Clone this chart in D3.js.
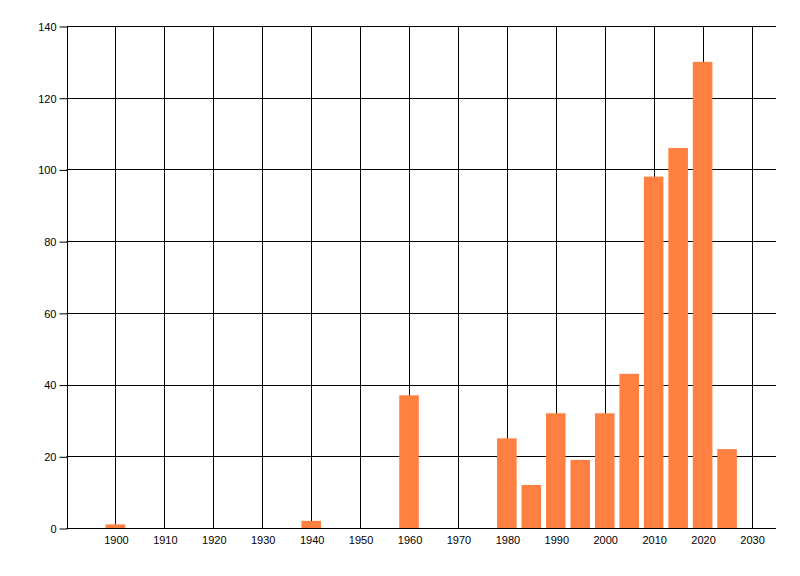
<!DOCTYPE html>
<html>
<head>
<meta charset="utf-8">
<script src="https://cdn.jsdelivr.net/npm/d3@7"></script>
<style>
  body { margin: 0; background: #fff; }
  .tick text { font-family: "Liberation Sans", Arial, sans-serif; font-size: 11px; fill: #000; }
</style>
</head>
<body>
<script>
const years = [1900, 1940, 1960, 1980, 1985, 1990, 1995, 2000, 2005, 2010, 2015, 2020, 2025];
const counts = [1, 2, 37, 25, 12, 32, 19, 32, 43, 98, 106, 130, 22];
const xTicks = [1900, 1910, 1920, 1930, 1940, 1950, 1960, 1970, 1980, 1990, 2000, 2010, 2020, 2030];
const yTicks = [0, 20, 40, 60, 80, 100, 120, 140];

const width = 800;
const height = 576;
const margin = { top: 26, right: 24, bottom: 48, left: 66.5 };
const barYears = 4;

const svg = d3.select('body').append('svg')
  .attr('width', width)
  .attr('height', height);

const x = d3.scaleLinear()
  .domain([1890, 2035])
  .range([margin.left, width - margin.right]);

const y = d3.scaleLinear()
  .domain([0, 140])
  .range([height - margin.bottom, margin.top]);

// vertical grid
svg.append('g')
  .selectAll('line')
  .data(xTicks)
  .enter()
    .append('line')
    .attr('x1', d => Math.round(x(d)) + 0.5)
    .attr('x2', d => Math.round(x(d)) + 0.5)
    .attr('y1', y(140))
    .attr('y2', y(0))
    .attr('stroke', '#000')
    .attr('stroke-width', 1);

// horizontal grid
svg.append('g')
  .selectAll('line')
  .data(yTicks)
  .enter()
    .append('line')
    .attr('x1', margin.left)
    .attr('x2', width - margin.right)
    .attr('y1', d => Math.round(y(d)) + 0.5)
    .attr('y2', d => Math.round(y(d)) + 0.5)
    .attr('stroke', '#000')
    .attr('stroke-width', 1);

// bars
const bw = x(1890 + barYears) - x(1890);
svg.append('g')
  .selectAll('rect')
  .data(years)
  .enter()
    .append('rect')
    .attr('x', d => x(d) - bw / 2)
    .attr('width', bw)
    .attr('y', (d, i) => y(counts[i]))
    .attr('height', (d, i) => y(0) - y(counts[i]))
    .attr('fill', '#ff8040');

// left axis line
svg.append('line')
  .attr('x1', Math.round(margin.left) + 0.5)
  .attr('x2', Math.round(margin.left) + 0.5)
  .attr('y1', y(140))
  .attr('y2', y(0) + 0.5)
  .attr('stroke', '#000');

const yAxis = svg.append('g')
  .attr('transform', `translate(${Math.round(margin.left) + 0.5},0.5)`)
  .call(d3.axisLeft(y).tickValues(yTicks).tickSize(8).tickPadding(3).tickFormat(d3.format('d')));
yAxis.select('.domain').remove();
yAxis.selectAll('.tick line').attr('stroke', '#000');
yAxis.selectAll('.tick text').attr('dy', '0.35em');

const xAxis = svg.append('g')
  .attr('transform', `translate(0.5,${Math.round(y(0))})`)
  .call(d3.axisBottom(x).tickValues(xTicks).tickSize(0).tickPadding(8).tickFormat(d3.format('d')));
xAxis.select('.domain').remove();
</script>
</body>
</html>
